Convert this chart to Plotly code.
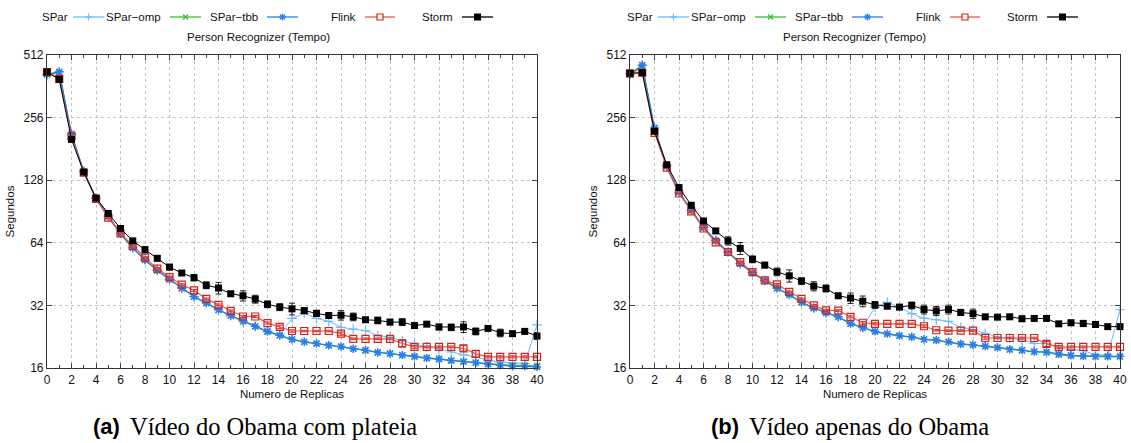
import math
import plotly.graph_objects as go

W, H = 1131, 443

replicas = list(range(41))

# ---- Panel (a): Vídeo do Obama com plateia ----
a_spar = [410, 425, 212, 141, 105, 86, 71, 60.6, 53, 47.2,
          42.8, 38.8, 35.3, 32.9, 30.5, 28.6, 26.9, 25.4, 24.0, 23.1,
          27.7, 29.3, 27.7, 26.8, 25.1, 24.6, 24.2, 22.9, 22.5, 21.6,
          20.9, 20.2, 19.8, 19.1, 18.5, 18.1, 17.4, 17.1, 16.9, 16.8,
          25.8]
a_omp = [412, 420, 212, 140, 104, 85.5, 70.5, 60.3, 52.8, 47.0,
         42.6, 38.6, 35.2, 32.8, 30.4, 28.5, 26.8, 25.3, 23.9, 22.9,
         21.9, 21.3, 20.9, 20.5, 20.2, 19.8, 19.4, 19.0, 18.7, 18.4,
         18.1, 17.8, 17.6, 17.3, 17.1, 16.9, 16.7, 16.6, 16.5, 16.5,
         16.4]
a_tbb = [414, 425, 214, 141, 105, 86, 71, 60.6, 53, 47.2,
         42.8, 38.8, 35.3, 32.9, 30.5, 28.6, 26.9, 25.4, 24.0, 23.0,
         22.0, 21.4, 21.0, 20.6, 20.3, 19.8, 19.5, 19.0, 18.8, 18.5,
         18.2, 17.9, 17.7, 17.4, 17.2, 17.0, 16.7, 16.5, 16.3, 16.3,
         16.2]
a_flink = [424, 393, 208, 139, 104, 84.5, 71, 61.8, 54.3, 48.1,
           43.8, 40.3, 37.8, 34.4, 32.2, 30.1, 28.3, 28.3, 26.3, 25.2,
           24.1, 24.1, 24.1, 24.1, 23.4, 22.1, 22.1, 22.1, 22.1, 21.0,
           20.2, 20.2, 20.2, 20.2, 19.9, 18.7, 18.1, 18.1, 18.1, 18.1,
           18.1]
a_flink_err = [0, 0, 0, 0, 0, 0.8, 0.6, 0.5, 0.5, 0.4,
               0.4, 0.3, 0.4, 0.3, 0.3, 0.3, 0.3, 0.3, 0.3, 0.5,
               0.3, 0.2, 0.2, 0.2, 0.4, 0.2, 0.2, 0.2, 0.2, 0.8,
               0.3, 0.2, 0.2, 0.2, 0.6, 0.7, 0.2, 0.2, 0.2, 0.2,
               0.2]
a_storm = [424, 391, 201, 140, 105, 88.6, 75, 65.4, 59.3, 53.9,
           48.9, 45.8, 43.5, 40, 38.8, 36.4, 35.6, 34.3, 32.4, 31.4,
           30.8, 30.2, 29.3, 28.6, 28.7, 28.2, 27.3, 27.1, 26.6, 26.6,
           25.6, 26.0, 25.2, 25.1, 25.2, 24.0, 24.8, 23.6, 23.4, 24.0,
           22.8]
a_storm_err = [3, 3, 2, 1.5, 1.2, 1.2, 1, 1, 2, 1.5,
               1.5, 1, 1.5, 1.5, 2.5, 1, 2, 1.5, 1.2, 1.2,
               2, 1, 1, 0.8, 1.5, 1.2, 0.6, 1, 0.8, 1,
               0.6, 0.6, 0.8, 0.9, 1.5, 0.9, 0.6, 1.0, 0.4, 0.5,
               0.8]

# ---- Panel (b): Vídeo apenas do Obama ----
b_spar = [416, 455, 226, 150, 112, 92, 76, 65.8, 57.8, 50.9,
          46, 42.2, 38.8, 36.1, 33.2, 31.1, 29.5, 28.2, 26.2, 25.1,
          31.4, 33.1, 31.4, 29.2, 27.8, 27.3, 26.8, 25.1, 24.5, 23.5,
          22.5, 22.3, 21.8, 21.0, 21.0, 20.0, 19.6, 19.4, 18.5, 18.5,
          30.5]
b_omp = [412, 450, 226, 149, 112, 91.5, 75.5, 65.5, 57.6, 50.7,
         45.8, 42.0, 38.6, 35.9, 33.0, 31.0, 29.4, 28.1, 26.1, 24.9,
         23.9, 23.3, 22.8, 22.5, 21.9, 21.7, 21.3, 20.8, 20.6, 20.3,
         20.0, 19.6, 19.4, 19.1, 19.0, 18.5, 18.3, 18.2, 18.1, 18.1,
         18.1]
b_tbb = [414, 458, 229, 150, 112, 92, 76, 65.8, 57.8, 50.9,
         46, 42.2, 38.8, 36.1, 33.2, 31.1, 29.5, 28.2, 26.2, 25.0,
         24.0, 23.4, 22.9, 22.6, 22.0, 21.8, 21.4, 20.9, 20.7, 20.4,
         20.1, 19.7, 19.5, 19.2, 19.1, 18.7, 18.4, 18.3, 18.2, 18.2,
         18.2]
b_flink = [418, 421, 216, 147, 110.5, 90.6, 75, 64.3, 57.8, 51.7,
           46.3, 42.2, 40.4, 37.2, 34.4, 32, 30.3, 30.2, 28.2, 26.4,
           26.1, 26.1, 26.1, 26.1, 25.4, 24.3, 24.2, 24.2, 24.2, 22.3,
           22.3, 22.3, 22.3, 22.3, 20.9, 20.2, 20.2, 20.2, 20.2, 20.2,
           20.2]
b_flink_err = [0, 0, 0, 0, 0, 0.8, 0.6, 0.5, 0.5, 0.4,
               0.4, 0.3, 0.4, 0.3, 0.3, 0.3, 0.3, 0.3, 0.3, 0.4,
               0.3, 0.2, 0.2, 0.2, 0.4, 0.2, 0.2, 0.2, 0.2, 0.3,
               0.2, 0.2, 0.2, 0.2, 0.6, 0.3, 0.2, 0.2, 0.2, 0.2,
               0.2]
b_storm = [418, 421, 220, 152, 118, 97, 81.5, 73, 65.4, 60.2,
           53.3, 50, 46.4, 44.4, 41.9, 39.6, 38.6, 35.6, 34.7, 33.5,
           32.2, 31.7, 31.4, 32, 30.6, 30.1, 30.6, 29.6, 29.2, 28.2,
           28.1, 28.2, 27.6, 27.7, 27.7, 26.1, 26.4, 26.2, 25.9, 25.3,
           25.3]
b_storm_err = [3, 3, 2, 2, 1.5, 1.5, 1, 1.5, 3, 4,
               2, 1.5, 2, 3, 1.5, 2, 1.5, 1, 2, 2,
               1.2, 0.6, 0.8, 1.2, 1.5, 1.5, 1.5, 1, 1.5, 0.5,
               0.6, 0.6, 0.8, 0.6, 0.6, 0.5, 0.8, 0.9, 0.4, 0.4,
               0.6]

series_names = ["SPar", "SPar−omp", "SPar−tbb", "Flink", "Storm"]
y_ticks = [16, 32, 64, 128, 256, 512]
x_ticks = list(range(0, 41, 2))
chart_title = "Person Recognizer (Tempo)"
x_title = "Numero de Replicas"
y_title = "Segundos"
captions = [("(a)", "Vídeo do Obama com plateia"), ("(b)", "Vídeo apenas do Obama")]

C_SPAR = "#6cbcff"
C_OMP = "#3cb83c"
C_TBB = "#2a7cf0"
C_FLINK_LINE = "#e8584a"
C_FLINK_MK = "#d42218"
C_STORM = "#000000"

FONT = "Liberation Sans, Arial, sans-serif"
SERIF = "Liberation Serif, Times New Roman, serif"
TXT = 11.5


def px(x):
    return x / W


def py(y):
    return 1 - y / H


fig = go.Figure()

panels = [
    dict(data=(a_spar, a_omp, a_tbb, a_flink, a_flink_err, a_storm, a_storm_err),
         x0=47, x1=537, xa="x", ya="y", dx=0),
    dict(data=(b_spar, b_omp, b_tbb, b_flink, b_flink_err, b_storm, b_storm_err),
         x0=630, x1=1120, xa="x2", ya="y2", dx=585),
]
PLOT_TOP, PLOT_BOT = 55, 368

for i, p in enumerate(panels):
    spar, omp, tbb, flink, flink_err, storm, storm_err = p["data"]
    common = dict(x=replicas, xaxis=p["xa"], yaxis=p["ya"], mode="lines+markers",
                  cliponaxis=False, showlegend=False)
    fig.add_trace(go.Scatter(y=spar, name=series_names[0], line=dict(color=C_SPAR, width=1),
                             marker=dict(symbol="cross-thin-open", size=7,
                                         line=dict(color=C_SPAR, width=1.2)), **common))
    fig.add_trace(go.Scatter(y=omp, name=series_names[1], line=dict(color=C_OMP, width=1.2),
                             marker=dict(symbol="x-thin-open", size=6,
                                         line=dict(color=C_OMP, width=1.2)), **common))
    fig.add_trace(go.Scatter(y=tbb, name=series_names[2], line=dict(color=C_TBB, width=1.2),
                             marker=dict(symbol="asterisk-open", size=7,
                                         line=dict(color=C_TBB, width=1.5)), **common))
    fig.add_trace(go.Scatter(y=flink, name=series_names[3], line=dict(color=C_FLINK_LINE, width=1.2),
                             marker=dict(symbol="square-open", size=7,
                                         line=dict(color=C_FLINK_MK, width=1.2), color=C_FLINK_MK),
                             error_y=dict(type="data", array=flink_err, color=C_FLINK_MK,
                                          thickness=1, width=3), **common))
    fig.add_trace(go.Scatter(y=storm, name=series_names[4], line=dict(color=C_STORM, width=1),
                             marker=dict(symbol="square", size=7, color=C_STORM),
                             error_y=dict(type="data", array=storm_err, color="#222222",
                                          thickness=1, width=3), **common))

    axsuffix = "" if i == 0 else "2"
    fig.update_layout(**{
        "xaxis" + axsuffix: dict(
            domain=[px(p["x0"]), px(p["x1"])], anchor="y" + axsuffix, automargin=False,
            range=[0, 40], tickvals=x_ticks, ticks="inside", ticklen=5,
            tickcolor="#444", tickwidth=1,
            minor=dict(dtick=1, ticks="inside", ticklen=3, tickcolor="#444", showgrid=False),
            showgrid=True, gridcolor="#c4c4c4", griddash="dot", gridwidth=1,
            showline=True, linecolor="#333", linewidth=1.2, mirror="allticks",
            zeroline=False, tickfont=dict(family=FONT, size=TXT + 0.5, color="#111"),
            title=dict(text=x_title, font=dict(family=FONT, size=TXT, color="#111"), standoff=4),
        ),
        "yaxis" + axsuffix: dict(
            domain=[py(PLOT_BOT), py(PLOT_TOP)], anchor="x" + axsuffix, automargin=False,
            type="log", range=[math.log10(16), math.log10(512)],
            tickvals=y_ticks, ticktext=[str(v) for v in y_ticks],
            ticks="inside", ticklen=5, tickcolor="#444", tickwidth=1,
            showgrid=True, gridcolor="#c4c4c4", griddash="dot", gridwidth=1,
            showline=True, linecolor="#333", linewidth=1.2, mirror="allticks",
            zeroline=False, tickfont=dict(family=FONT, size=TXT + 0.5, color="#111"),
            title=dict(text=y_title, font=dict(family=FONT, size=TXT, color="#111"), standoff=6),
        ),
    })

# ---- legend (gnuplot style: label then sample) and titles ----
shapes = []
annotations = []
LEG_Y = 17
legend_items = [
    # label right edge, sample start, sample end
    (70, 73, 104),
    (163, 170, 201),
    (260, 267, 298),
    (358, 365, 395),
    (455, 462, 493),
]
styles = [
    (C_SPAR, "plus", C_SPAR),
    (C_OMP, "x", C_OMP),
    (C_TBB, "ast", C_TBB),
    (C_FLINK_LINE, "osq", C_FLINK_MK),
    (C_STORM, "fsq", C_STORM),
]


def seg(x0, y0, x1, y1, color, width=1.2):
    return dict(type="line", xref="paper", yref="paper", x0=px(x0), y0=py(y0),
                x1=px(x1), y1=py(y1), line=dict(color=color, width=width))


for p in panels:
    dx = p["dx"]
    for name, (tr, s0, s1), (lc, kind, mc) in zip(series_names, legend_items, styles):
        annotations.append(dict(text=name, x=px(tr + dx), y=py(LEG_Y), xref="paper", yref="paper",
                                xanchor="right", yanchor="middle", showarrow=False,
                                font=dict(family=FONT, size=TXT, color="#111")))
        shapes.append(seg(s0 + dx, LEG_Y, s1 + dx, LEG_Y, lc, 1.3))
        xm = (s0 + s1) / 2 + dx
        if kind in ("plus", "ast"):
            shapes.append(seg(xm, LEG_Y - 3.5, xm, LEG_Y + 3.5, mc, 1.2))
            shapes.append(seg(xm - 3.5, LEG_Y, xm + 3.5, LEG_Y, mc, 1.2))
        if kind in ("x", "ast"):
            shapes.append(seg(xm - 2.5, LEG_Y - 2.5, xm + 2.5, LEG_Y + 2.5, mc, 1.2))
            shapes.append(seg(xm - 2.5, LEG_Y + 2.5, xm + 2.5, LEG_Y - 2.5, mc, 1.2))
        if kind == "osq":
            shapes.append(dict(type="rect", xref="paper", yref="paper",
                               x0=px(xm - 3), x1=px(xm + 3), y0=py(LEG_Y + 3), y1=py(LEG_Y - 3),
                               line=dict(color=mc, width=1.2), fillcolor="white"))
        if kind == "fsq":
            shapes.append(dict(type="rect", xref="paper", yref="paper",
                               x0=px(xm - 3.5), x1=px(xm + 3.5), y0=py(LEG_Y + 3.5), y1=py(LEG_Y - 3.5),
                               line=dict(color=mc, width=0), fillcolor=mc))
    annotations.append(dict(text=chart_title, x=px(258 + dx * 1.02), y=py(37), xref="paper", yref="paper",
                            xanchor="center", yanchor="middle", showarrow=False,
                            font=dict(family=FONT, size=TXT, color="#111")))

# captions
cap_pos = [(122, 128, 426), (741, 747, 426)]
for (lab, txt), (xr, xl, yc) in zip(captions, cap_pos):
    annotations.append(dict(text="<b>" + lab + "</b>", x=px(xr), y=py(yc), xref="paper", yref="paper",
                            xanchor="right", yanchor="middle", showarrow=False,
                            font=dict(family=FONT, size=22, color="#000")))
    annotations.append(dict(text=txt, x=px(xl), y=py(yc), xref="paper", yref="paper",
                            xanchor="left", yanchor="middle", showarrow=False,
                            font=dict(family=SERIF, size=24.5, color="#000")))

fig.update_layout(
    width=W, height=H,
    margin=dict(l=0, r=0, t=0, b=0),
    paper_bgcolor="white", plot_bgcolor="white",
    shapes=shapes, annotations=annotations,
    showlegend=False,
)

fig.write_html("out.html", config={"displayModeBar": False},
               post_script="document.body.style.margin='0';document.body.style.overflow='hidden';")
